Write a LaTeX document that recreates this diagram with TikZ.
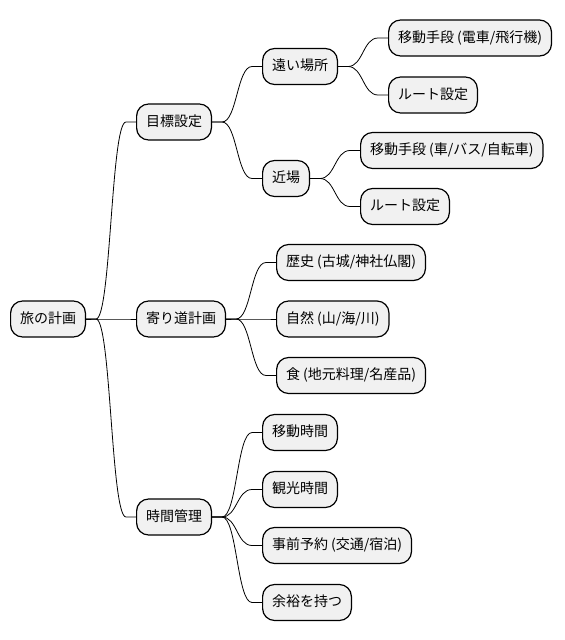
\documentclass[tikz,border=0pt]{standalone}
\usepackage{fontspec}
\setmainfont{Noto Sans CJK JP}
\usetikzlibrary{positioning}
\definecolor{boxgray}{HTML}{F1F1F1}

\begin{document}
\begin{tikzpicture}[x=1pt,y=-1pt,node distance=50pt,
  main node/.style={rectangle,rounded corners=12pt,fill=boxgray,draw,line width=1.2pt,font=\fontsize{14}{16}\selectfont,minimum height=36pt,inner xsep=9.4pt,text height=11pt,text depth=3pt,anchor=west},
  leaf node/.style={main node},
  branch/.style={line width=0.8pt,to path={-- ++(10pt,0) .. controls +(15pt,0) and +(-15pt,0) .. ([xshift=-10pt]\tikztotarget) -- (\tikztotarget)}}]
  \useasboundingbox (0,0) rectangle (565,640);

  \node[main node] (1) at (10,319) {旅の計画};
  \node[main node] (2) [right=of 1,yshift=197pt] {目標設定};
  \node[main node] (3) [right=of 1] {寄り道計画};
  \node[main node] (4) [right=of 1,yshift=-198pt] {時間管理};
  \node[main node] (5) [right=of 2,yshift=55.5pt] {遠い場所};
  \node[main node] (6) [right=of 2,yshift=-56.5pt] {近場};
  \node[leaf node] (7) [right=of 5,yshift=28.5pt] {移動手段 (電車/飛行機)};
  \node[leaf node] (8) [right=of 5,yshift=-28.5pt] {ルート設定};
  \node[leaf node] (9) [right=of 6,yshift=28pt] {移動手段 (車/バス/自転車)};
  \node[leaf node] (10) [right=of 6,yshift=-28pt] {ルート設定};
  \node[leaf node] (11) [right=of 3,yshift=56.5pt] {歴史 (古城/神社仏閣)};
  \node[leaf node] (12) [right=of 3] {自然 (山/海/川)};
  \node[leaf node] (13) [right=of 3,yshift=-56.5pt] {食 (地元料理/名産品)};
  \node[leaf node] (14) [right=of 4,yshift=84.5pt] {移動時間};
  \node[leaf node] (15) [right=of 4,yshift=27.5pt] {観光時間};
  \node[leaf node] (16) [right=of 4,yshift=-28.5pt] {事前予約 (交通/宿泊)};
  \node[leaf node] (17) [right=of 4,yshift=-85.5pt] {余裕を持つ};

  \path[branch]
    (1.east) edge (2.west)
    (1.east) edge (3.west)
    (1.east) edge (4.west)
    (2.east) edge (5.west)
    (2.east) edge (6.west)
    (5.east) edge (7.west)
    (5.east) edge (8.west)
    (6.east) edge (9.west)
    (6.east) edge (10.west)
    (3.east) edge (11.west)
    (3.east) edge (12.west)
    (3.east) edge (13.west)
    (4.east) edge (14.west)
    (4.east) edge (15.west)
    (4.east) edge (16.west)
    (4.east) edge (17.west)
    ;

\end{tikzpicture}
\end{document}
